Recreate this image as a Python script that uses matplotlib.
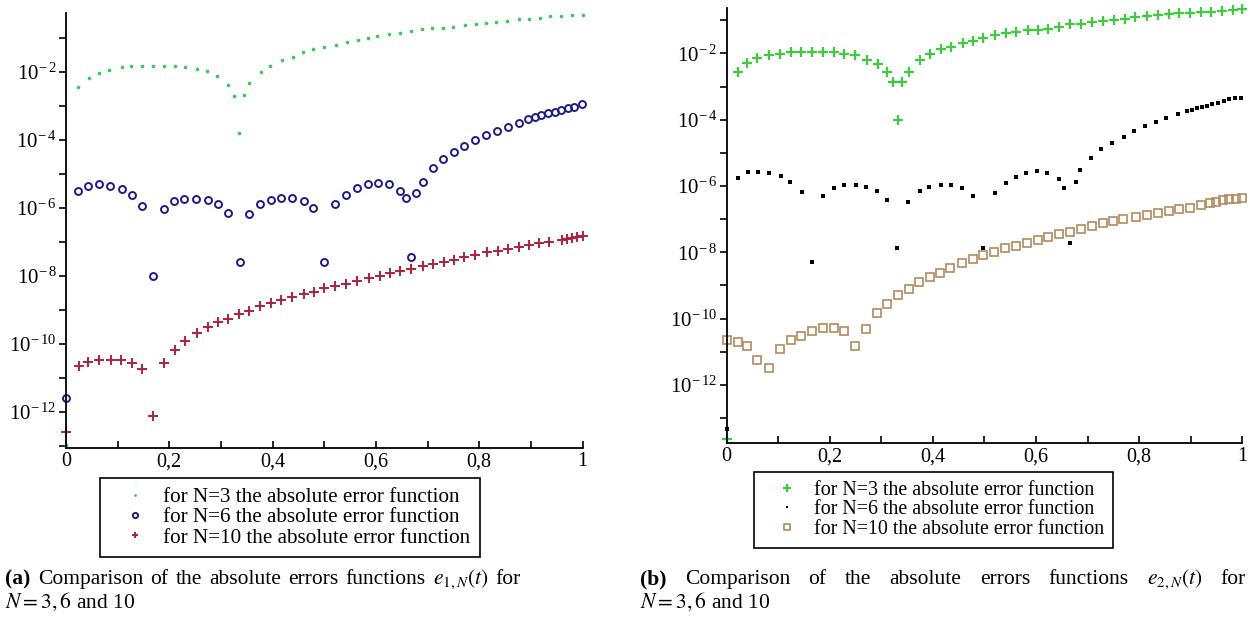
import numpy as np
import matplotlib
matplotlib.use("Agg")
import matplotlib.pyplot as plt
from matplotlib.ticker import FixedLocator, FixedFormatter

# ------------------------------------------------------------
# DATA (stored as log10 of the error)
# ------------------------------------------------------------
# panel (a): e_{1,N}(t)
t_a_n3 = [0.0, 0.023, 0.045, 0.064, 0.084, 0.109, 0.125, 0.148, 0.169, 0.189,
          0.212, 0.230, 0.254, 0.273, 0.293, 0.314, 0.326, 0.334, 0.345, 0.355,
          0.378, 0.395, 0.419, 0.439, 0.459, 0.479, 0.500, 0.523, 0.544, 0.565,
          0.585, 0.603, 0.625, 0.647, 0.668, 0.689, 0.709, 0.729, 0.750, 0.773,
          0.793, 0.813, 0.833, 0.854, 0.877, 0.897, 0.917, 0.938, 0.958, 0.979, 1.0]
log_a_n3 = [-12.97, -2.43, -2.17, -2.02, -1.94, -1.86, -1.82, -1.82, -1.82, -1.82,
            -1.82, -1.85, -1.91, -1.98, -2.12, -2.39, -2.70, -3.80, -2.66, -2.33,
            -1.99, -1.82, -1.63, -1.55, -1.42, -1.32, -1.25, -1.21, -1.11, -1.06,
            -1.01, -0.94, -0.88, -0.84, -0.79, -0.74, -0.71, -0.69, -0.66, -0.62,
            -0.57, -0.54, -0.53, -0.49, -0.45, -0.43, -0.40, -0.35, -0.35, -0.32, -0.32]

t_a_n6 = [0.0, 0.024, 0.043, 0.064, 0.085, 0.108, 0.127, 0.148, 0.168, 0.189,
          0.210, 0.229, 0.251, 0.274, 0.295, 0.313, 0.336, 0.354, 0.376, 0.397,
          0.417, 0.438, 0.460, 0.479, 0.500, 0.521, 0.542, 0.563, 0.585, 0.605,
          0.626, 0.647, 0.658, 0.668, 0.678, 0.691, 0.710, 0.730, 0.751, 0.771,
          0.791, 0.813, 0.835, 0.855, 0.877, 0.895, 0.908, 0.920, 0.933, 0.946,
          0.959, 0.972, 0.984, 0.999]
log_a_n6 = [-11.6, -5.50, -5.34, -5.30, -5.35, -5.45, -5.62, -5.93, -8.00, -6.03,
            -5.79, -5.73, -5.73, -5.76, -5.89, -6.14, -7.58, -6.18, -5.88, -5.76,
            -5.70, -5.70, -5.79, -5.99, -7.60, -5.88, -5.62, -5.42, -5.30, -5.26,
            -5.29, -5.49, -5.71, -7.43, -5.57, -5.23, -4.83, -4.57, -4.34, -4.17,
            -4.00, -3.85, -3.73, -3.61, -3.49, -3.39, -3.33, -3.26, -3.21, -3.17,
            -3.12, -3.07, -3.02, -2.94]

t_a_n10 = [0.0, 0.025, 0.043, 0.063, 0.087, 0.107, 0.127, 0.148, 0.168, 0.190,
           0.211, 0.231, 0.253, 0.274, 0.295, 0.313, 0.335, 0.355, 0.376, 0.397,
           0.417, 0.437, 0.460, 0.481, 0.500, 0.521, 0.542, 0.563, 0.586, 0.607,
           0.627, 0.646, 0.667, 0.691, 0.711, 0.731, 0.752, 0.771, 0.791, 0.815,
           0.836, 0.855, 0.877, 0.897, 0.916, 0.935, 0.961, 0.970, 0.980, 0.990, 1.0]
log_a_n10 = [-12.58, -10.64, -10.53, -10.47, -10.47, -10.47, -10.57, -10.74, -12.11, -10.57,
             -10.18, -9.90, -9.69, -9.49, -9.36, -9.25, -9.12, -9.02, -8.88, -8.78,
             -8.71, -8.61, -8.54, -8.46, -8.36, -8.28, -8.22, -8.14, -8.07, -8.00,
             -7.92, -7.84, -7.79, -7.70, -7.65, -7.58, -7.53, -7.45, -7.39, -7.30,
             -7.26, -7.21, -7.14, -7.09, -7.04, -6.99, -6.94, -6.92, -6.89, -6.86, -6.82]

# panel (b): e_{2,N}(t)
t_b_n3 = [0.0, 0.021, 0.040, 0.059, 0.083, 0.103, 0.124, 0.144, 0.165, 0.187,
          0.208, 0.228, 0.249, 0.272, 0.293, 0.310, 0.322, 0.333, 0.341, 0.353,
          0.375, 0.394, 0.415, 0.435, 0.459, 0.478, 0.497, 0.520, 0.541, 0.562,
          0.585, 0.604, 0.623, 0.645, 0.665, 0.688, 0.709, 0.730, 0.751, 0.772,
          0.793, 0.815, 0.836, 0.858, 0.878, 0.899, 0.921, 0.940, 0.961, 0.982, 1.0]
log_b_n3 = [-13.64, -2.55, -2.28, -2.15, -2.05, -2.02, -1.97, -1.97, -1.97, -1.97,
            -1.97, -2.02, -2.05, -2.20, -2.33, -2.55, -2.87, -4.01, -2.87, -2.55,
            -2.20, -2.02, -1.88, -1.80, -1.70, -1.63, -1.55, -1.45, -1.38, -1.35,
            -1.30, -1.28, -1.25, -1.20, -1.12, -1.10, -1.05, -1.02, -0.98, -0.95,
            -0.90, -0.88, -0.85, -0.82, -0.79, -0.78, -0.75, -0.75, -0.72, -0.69, -0.67]

t_b_n6 = [0.0, 0.021, 0.041, 0.061, 0.082, 0.105, 0.123, 0.146, 0.166, 0.186,
          0.209, 0.228, 0.250, 0.270, 0.291, 0.311, 0.331, 0.352, 0.375, 0.393,
          0.415, 0.436, 0.457, 0.477, 0.497, 0.520, 0.541, 0.561, 0.581, 0.602,
          0.622, 0.645, 0.654, 0.665, 0.677, 0.686, 0.707, 0.727, 0.747, 0.770,
          0.790, 0.811, 0.832, 0.853, 0.875, 0.893, 0.902, 0.912, 0.922, 0.931,
          0.942, 0.953, 0.964, 0.975, 0.987, 0.998]
log_b_n6 = [-13.33, -5.75, -5.57, -5.57, -5.62, -5.70, -5.87, -6.19, -8.28, -6.29,
            -6.07, -5.97, -5.97, -6.02, -6.15, -6.42, -7.88, -6.47, -6.15, -6.02,
            -5.97, -5.97, -6.07, -6.29, -7.86, -6.20, -5.92, -5.74, -5.60, -5.55,
            -5.60, -5.79, -6.05, -7.73, -5.87, -5.52, -5.15, -4.89, -4.70, -4.51,
            -4.34, -4.19, -4.06, -3.96, -3.84, -3.74, -3.71, -3.66, -3.63, -3.59,
            -3.54, -3.49, -3.44, -3.39, -3.36, -3.36]

t_b_n10 = [0.0, 0.021, 0.039, 0.059, 0.083, 0.103, 0.124, 0.144, 0.165, 0.187,
           0.209, 0.228, 0.249, 0.271, 0.292, 0.310, 0.333, 0.353, 0.373, 0.394,
           0.413, 0.434, 0.457, 0.478, 0.497, 0.518, 0.539, 0.561, 0.583, 0.604,
           0.623, 0.645, 0.665, 0.688, 0.709, 0.730, 0.749, 0.769, 0.794, 0.815,
           0.836, 0.858, 0.878, 0.899, 0.921, 0.937, 0.950, 0.962, 0.975, 0.988, 1.0]
log_b_n10 = [-10.64, -10.69, -10.82, -11.25, -11.50, -10.91, -10.64, -10.51, -10.37, -10.29,
             -10.29, -10.37, -10.82, -10.32, -9.84, -9.57, -9.29, -9.11, -8.89, -8.75,
             -8.61, -8.48, -8.33, -8.21, -8.08, -7.98, -7.88, -7.81, -7.71, -7.63,
             -7.55, -7.46, -7.38, -7.30, -7.21, -7.13, -7.06, -7.00, -6.93, -6.87,
             -6.82, -6.75, -6.70, -6.65, -6.57, -6.52, -6.47, -6.42, -6.40, -6.38, -6.35]

legend_labels = ["for N=3 the absolute error function",
                 "for N=6 the absolute error function",
                 "for N=10 the absolute error function"]

x_ticks = [0, 0.2, 0.4, 0.6, 0.8, 1]
x_tick_labels = ["0", "0,2", "0,4", "0,6", "0,8", "1"]
y_exponents = [-2, -4, -6, -8, -10, -12]

# ------------------------------------------------------------
# STYLE
# ------------------------------------------------------------
plt.rcParams["font.family"] = ["Liberation Serif", "DejaVu Serif"]
plt.rcParams["mathtext.fontset"] = "stix"

W, H = 1250, 620
fig = plt.figure(figsize=(12.5, 6.2), dpi=100)
fig.patch.set_facecolor("white")


def style_axes(ax, ylim_log):
    ax.set_yscale("log")
    ax.set_xlim(0, 1)
    ax.set_ylim(10 ** ylim_log[0], 10 ** ylim_log[1])
    ax.spines["top"].set_visible(False)
    ax.spines["right"].set_visible(False)
    ax.spines["left"].set_linewidth(1.3)
    ax.spines["bottom"].set_linewidth(1.3)

    ax.xaxis.set_major_locator(FixedLocator(x_ticks))
    ax.xaxis.set_major_formatter(FixedFormatter(x_tick_labels))
    ax.xaxis.set_minor_locator(FixedLocator([0.1, 0.3, 0.5, 0.7, 0.9]))
    ax.tick_params(axis="x", which="both", direction="in", length=5, width=1.2,
                   labelsize=14.5, pad=3)

    ax.yaxis.set_major_locator(FixedLocator([10.0 ** e for e in y_exponents]))
    ax.yaxis.set_major_formatter(FixedFormatter(
        [r"$\mathregular{10^{-\,%d}}$" % (-e) for e in y_exponents]))
    ax.yaxis.set_minor_locator(FixedLocator([10.0 ** e for e in range(-13, 0, 2)]))
    ax.yaxis.set_minor_formatter(FixedFormatter([]))
    ax.tick_params(axis="y", which="both", direction="out", length=5, width=1.2,
                   labelsize=15, pad=2)


def to_val(logs):
    return 10.0 ** np.array(logs)


def add_legend(ax, x_left, y_top, size):
    leg = ax.legend(loc="upper left", bbox_to_anchor=(x_left / W, 1 - y_top / H),
                    bbox_transform=fig.transFigure, borderaxespad=0, fontsize=size,
                    markerscale=0.75, handlelength=2.4, handletextpad=0.15,
                    labelspacing=0.02, borderpad=0.45, fancybox=False,
                    edgecolor="black", framealpha=1)
    leg.get_frame().set_linewidth(1.2)
    return leg


# ------------------------------------------------------------
# PANEL (a)
# ------------------------------------------------------------
ax1 = fig.add_axes([66 / W, 172 / H, 516.5 / W, 435 / H])
style_axes(ax1, (-13.06, -0.26))
ax1.plot(t_a_n3, to_val(log_a_n3), ls="none", marker="o", ms=2.6,
         color="#35c85a", mew=0, clip_on=False, label=legend_labels[0])
ax1.plot(t_a_n6, to_val(log_a_n6), ls="none", marker="o", ms=5.0,
         mfc="none", mec="#1c1c8a", mew=1.4, clip_on=False, label=legend_labels[1])
ax1.plot(t_a_n10, to_val(log_a_n10), ls="none", marker="+", ms=6.5,
         color="#b41e3c", mew=1.4, clip_on=False, label=legend_labels[2])
add_legend(ax1, 100, 478, 15.2)

# ------------------------------------------------------------
# PANEL (b)
# ------------------------------------------------------------
ax2 = fig.add_axes([726.7 / W, 176.7 / H, 515.5 / W, 435 / H])
style_axes(ax2, (-13.76, -0.64))
ax2.plot(t_b_n3, to_val(log_b_n3), ls="none", marker="+", ms=7.5,
         color="#3ccc3c", mew=1.6, clip_on=False, label=legend_labels[0])
ax2.plot(t_b_n6, to_val(log_b_n6), ls="none", marker="s", ms=2.4,
         color="black", mew=0, clip_on=False, label=legend_labels[1])
ax2.plot(t_b_n10, to_val(log_b_n10), ls="none", marker="s", ms=5.2,
         mfc="none", mec="#b38a5c", mew=1.2, clip_on=False, label=legend_labels[2])
add_legend(ax2, 754, 472, 14.4)

# ------------------------------------------------------------
# CAPTIONS (first line justified to the column width)
# ------------------------------------------------------------
cap_size = 15.5
renderer = fig.canvas.get_renderer()


def justified_line(words, x0, x1, y):
    texts = []
    for i, w in enumerate(words):
        weight = "bold" if i == 0 else "normal"
        texts.append(fig.text(0, 1 - y / H, w, fontsize=cap_size,
                              fontweight=weight, va="baseline"))
    widths = [t.get_window_extent(renderer).width for t in texts]
    gap = (x1 - x0 - sum(widths)) / (len(words) - 1)
    x = x0
    for t, w in zip(texts, widths):
        t.set_x(x / W)
        x += w + gap


justified_line(["(a)", "Comparison", "of", "the", "absolute", "errors", "functions",
                r"$e_{1,N}(t)$", "for"], 5, 521, 584)
fig.text(5 / W, 1 - 608 / H, r"$N = 3,6$ and 10", fontsize=cap_size, va="baseline")

justified_line(["(b)", "Comparison", "of", "the", "absolute", "errors", "functions",
                r"$e_{2,N}(t)$", "for"], 640, 1246, 584)
fig.text(640 / W, 1 - 608 / H, r"$N = 3,6$ and 10", fontsize=cap_size, va="baseline")

fig.savefig("out.png", dpi=100, facecolor="white")
